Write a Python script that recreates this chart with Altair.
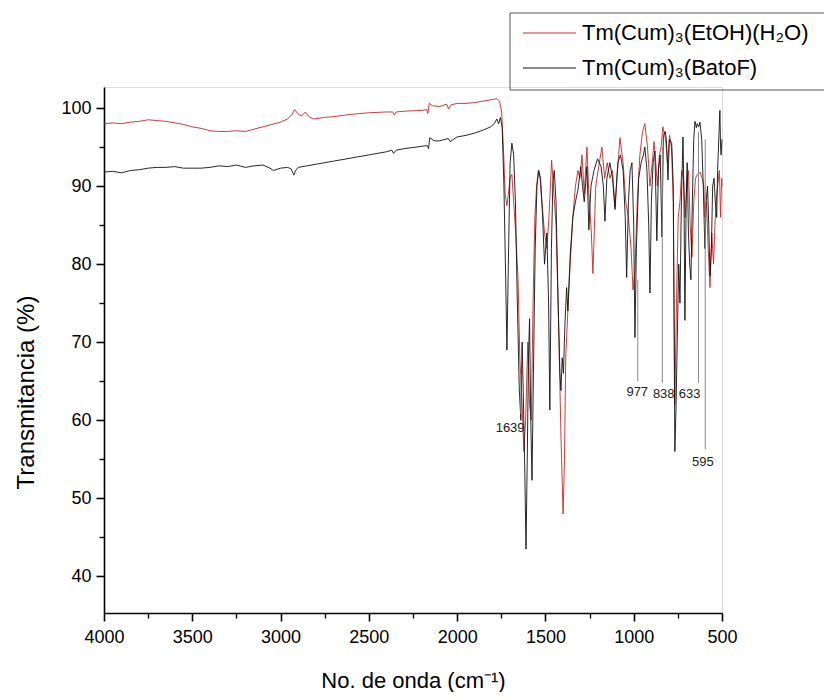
import altair as alt
import pandas as pd

FONT = "Liberation Sans"

# ---- data: (wavenumber cm-1, transmittance %) ----
red_points = [
    (4000, 98.0), (3950, 98.1), (3900, 98.0), (3850, 98.2), (3800, 98.3), (3750, 98.5),
    (3700, 98.4), (3650, 98.3), (3600, 98.1), (3550, 97.9), (3500, 97.6), (3450, 97.4),
    (3400, 97.1), (3350, 97.0), (3300, 97.0), (3250, 97.1), (3200, 97.0), (3150, 97.3),
    (3100, 97.6), (3050, 97.9), (3000, 98.2), (2960, 98.6), (2935, 99.2), (2920, 99.8),
    (2900, 99.2), (2880, 99.0), (2860, 99.5), (2840, 98.9), (2815, 98.6), (2750, 98.8),
    (2700, 98.9), (2600, 99.2), (2500, 99.4), (2400, 99.5), (2365, 99.5), (2355, 99.1),
    (2345, 99.5), (2300, 99.6), (2200, 99.7), (2172, 99.8), (2166, 99.3), (2158, 100.6),
    (2140, 100.3), (2100, 100.2), (2060, 100.5), (2048, 99.9), (2035, 100.4), (2000, 100.6),
    (1950, 100.6), (1900, 100.7), (1850, 100.9), (1800, 101.1), (1775, 101.2), (1760, 100.9),
    (1748, 99.5), (1738, 95), (1728, 89), (1718, 87.5), (1710, 89), (1700, 91),
    (1690, 91.5), (1680, 88), (1668, 84), (1655, 78), (1645, 68), (1632, 62),
    (1622, 56), (1612, 60), (1600, 70), (1590, 62), (1580, 60), (1570, 75),
    (1560, 86), (1550, 90), (1540, 92), (1530, 91), (1520, 88), (1505, 84),
    (1492, 82), (1480, 86), (1465, 93.3), (1452, 89), (1440, 85), (1425, 72),
    (1412, 58), (1400, 48), (1392, 55), (1385, 68), (1373, 74), (1360, 80),
    (1345, 86), (1330, 90), (1316, 92), (1305, 91), (1293, 94), (1280, 89),
    (1265, 95), (1254, 89), (1240, 84), (1231, 78.8), (1215, 90), (1195, 93),
    (1180, 95), (1165, 91), (1150, 93), (1135, 91), (1120, 92), (1106, 87.3),
    (1092, 92), (1078, 96.2), (1060, 93), (1045, 88), (1030, 86), (1015, 82),
    (1004, 76.7), (993, 79), (980, 88), (965, 94), (950, 97), (937, 98),
    (922, 95), (908, 90), (895, 93), (885, 95.7), (875, 93), (866, 90),
    (855, 94), (845, 95), (835, 97.6), (820, 96), (808, 93), (797, 96.5),
    (786, 95), (776, 88), (767, 62), (758, 75), (748, 86), (738, 88),
    (728, 92), (718, 91), (708, 86), (698, 91), (690, 92), (680, 85),
    (670, 80.9), (660, 88), (650, 91), (640, 91.5), (625, 91.8), (612, 91),
    (603, 90), (597, 86), (588, 88), (578, 82), (568, 77), (558, 84),
    (548, 80), (540, 85), (530, 89), (522, 90.5), (515, 92), (508, 86),
    (502, 91), (500, 90),
]

black_points = [
    (4000, 91.8), (3950, 91.9), (3900, 91.7), (3850, 92.0), (3800, 92.1), (3750, 92.3),
    (3700, 92.4), (3650, 92.4), (3600, 92.5), (3550, 92.3), (3500, 92.3), (3450, 92.3),
    (3400, 92.4), (3350, 92.6), (3300, 92.5), (3250, 92.7), (3200, 92.4), (3150, 92.6),
    (3100, 92.7), (3060, 92.3), (3040, 92.0), (3000, 92.3), (2960, 92.4), (2940, 92.2),
    (2925, 91.4), (2915, 92.0), (2900, 92.4), (2850, 92.6), (2800, 92.8), (2750, 93.0),
    (2700, 93.2), (2600, 93.6), (2500, 94.0), (2400, 94.4), (2370, 94.6), (2360, 94.2),
    (2345, 94.6), (2300, 94.8), (2200, 95.1), (2170, 95.2), (2162, 94.8), (2155, 96.2),
    (2130, 95.8), (2100, 95.8), (2050, 96.1), (2040, 95.7), (2000, 96.3), (1950, 96.5),
    (1900, 96.8), (1850, 97.2), (1810, 97.6), (1790, 98.0), (1775, 98.6), (1765, 98.0),
    (1755, 98.8), (1745, 97.5), (1735, 90), (1725, 78), (1718, 69), (1710, 80),
    (1700, 93), (1690, 95.5), (1680, 94), (1670, 88), (1660, 76), (1648, 64),
    (1639, 60), (1632, 70), (1625, 63), (1618, 55), (1610, 43.5), (1603, 55),
    (1596, 68), (1590, 73), (1583, 60), (1576, 52.3), (1568, 66), (1558, 82),
    (1548, 90), (1538, 92), (1528, 91), (1518, 87), (1505, 80), (1492, 84),
    (1482, 75), (1475, 61.3), (1466, 82), (1458, 90.4), (1450, 92), (1440, 88),
    (1428, 75), (1418, 66), (1412, 63.8), (1405, 68), (1398, 66), (1390, 72),
    (1380, 77), (1373, 74), (1360, 81), (1345, 86), (1330, 88), (1316, 89.5),
    (1300, 92.5), (1290, 90), (1280, 88), (1265, 92.5), (1254, 84.4), (1242, 90),
    (1225, 92), (1205, 93.5), (1185, 92.5), (1172, 90), (1163, 85.5), (1152, 91),
    (1135, 93), (1120, 91), (1106, 87), (1090, 93), (1075, 94), (1060, 92),
    (1048, 86), (1040, 78.3), (1030, 88), (1020, 92), (1010, 93), (1000, 85),
    (993, 70.6), (985, 82), (972, 91), (958, 93), (945, 94), (937, 95),
    (925, 92), (915, 85), (908, 76.3), (900, 88), (890, 93), (880, 94.5),
    (869, 83), (860, 92), (850, 94), (840, 83.5), (832, 96.5), (822, 97),
    (815, 96), (806, 90.8), (798, 96), (785, 95.5), (776, 90), (767, 56),
    (760, 62), (752, 72), (745, 80), (738, 75), (730, 88), (721, 96.3),
    (715, 88), (710, 72.8), (703, 88), (697, 93), (690, 84), (683, 80),
    (676, 78), (668, 88), (660, 96), (653, 98.3), (645, 97.5), (640, 98),
    (632, 97.6), (625, 98.2), (615, 96), (606, 90), (597, 82), (590, 88),
    (582, 90), (575, 85), (568, 78.5), (560, 82), (553, 90), (545, 91),
    (538, 88), (530, 86), (525, 92), (512, 99.7), (508, 95), (505, 94),
    (500, 96),
]

series_names = ["Tm(Cum)₃(EtOH)(H₂O)", "Tm(Cum)₃(BatoF)"]
series_colors = ["#c62828", "#111111"]

# peak annotations
ann_w = [1639, 977, 838, 633, 595]
ann_top = [66, 78, 95, 97, 96]
ann_bot = [60.8, 65.0, 64.8, 64.8, 56.3]
lab_x = [1700, 980, 830, 683, 608]
lab_y = [59.0, 63.6, 63.3, 63.3, 54.6]
lab_text = ["1639", "977", "838", "633", "595"]

x_major_ticks = [4000, 3500, 3000, 2500, 2000, 1500, 1000, 500]
x_minor_ticks = [3750, 3250, 2750, 2250, 1750, 1250, 750]
y_major_ticks = [40, 50, 60, 70, 80, 90, 100]
y_minor_ticks = [45, 55, 65, 75, 85, 95]

# ---- tables ----
df_red = pd.DataFrame(red_points, columns=["w", "t"])
df_black = pd.DataFrame(black_points, columns=["w", "t"])
df_ann = pd.DataFrame({"w": ann_w, "top": ann_top, "bot": ann_bot})
df_lab = pd.DataFrame({"x": lab_x, "y": lab_y, "label": lab_text})
one = pd.DataFrame({"a": [0]})

xs = alt.Scale(domain=[500, 4000], reverse=True, nice=False, zero=False)
ys = alt.Scale(domain=[35.3, 102.7], nice=False, zero=False)

common_axis = dict(grid=False, domainColor="black", tickColor="black", labelColor="black",
                   labelFont=FONT, titleFont=FONT, titleColor="black", titleFontWeight="normal",
                   domainWidth=1.6, tickWidth=1.6)

x_major = alt.Axis(values=x_major_ticks, format="d", tickSize=8, labelFontSize=18, labelPadding=7,
                   title="No. de onda (cm⁻¹)", titleFontSize=22, titleBaseline="middle", titleY=67,
                   orient="bottom", labelFlush=False, labelOverlap=False, **common_axis)
y_major = alt.Axis(values=y_major_ticks, format="d", tickSize=8, labelFontSize=18, labelPadding=5,
                   title="Transmitancia (%)", titleFontSize=24, titleAlign="center",
                   titleBaseline="middle", titleX=-78, titleY=305,
                   orient="left", labelOverlap=False, **common_axis)
x_minor = alt.Axis(values=x_minor_ticks, labels=False, domain=False, tickSize=5, tickWidth=1.4,
                   tickColor="black", grid=False, orient="bottom", title=None)
y_minor = alt.Axis(values=y_minor_ticks, labels=False, domain=False, tickSize=5, tickWidth=1.4,
                   tickColor="black", grid=False, orient="left", title=None)

red_line = alt.Chart(df_red).mark_line(color=series_colors[0], strokeWidth=0.9).encode(
    x=alt.X("w:Q", scale=xs, axis=x_major),
    y=alt.Y("t:Q", scale=ys, axis=y_major),
)
black_line = alt.Chart(df_black).mark_line(color=series_colors[1], strokeWidth=0.9).encode(
    x=alt.X("w:Q", scale=xs, axis=None),
    y=alt.Y("t:Q", scale=ys, axis=None),
)
ann_rules = alt.Chart(df_ann).mark_rule(color="#8a8a8a", strokeWidth=1).encode(
    x=alt.X("w:Q", scale=xs, axis=x_minor),
    y=alt.Y("top:Q", scale=ys, axis=y_minor),
    y2="bot:Q",
)
ann_text = alt.Chart(df_lab).mark_text(font=FONT, fontSize=13, color="#222222", baseline="middle").encode(
    x=alt.X("x:Q", scale=xs, axis=None),
    y=alt.Y("y:Q", scale=ys, axis=None),
    text="label:N",
)

# custom legend (box + two entries) above the top-right of the plot
leg_box = alt.Chart(one).mark_rect(filled=False, stroke="#555555", strokeWidth=1).encode(
    x=alt.value(406), x2=alt.value(760), y=alt.value(-74), y2=alt.value(3)
)
leg_layers = [leg_box]
for i, (name, col) in enumerate(zip(series_names, series_colors)):
    yy = -54 + 35 * i
    leg_layers.append(
        alt.Chart(one).mark_rule(color=col, strokeWidth=1).encode(
            x=alt.value(419), x2=alt.value(472), y=alt.value(yy))
    )
    leg_layers.append(
        alt.Chart(one).mark_text(align="left", baseline="middle", font=FONT, fontSize=22, color="black").encode(
            x=alt.value(478), y=alt.value(yy), text=alt.value(name))
    )

chart = alt.layer(red_line, black_line, ann_rules, ann_text, *leg_layers).resolve_axis(
    x="independent", y="independent"
).properties(
    width=618, height=526,
    padding={"left": 96, "top": 79, "right": 102, "bottom": 79},
    autosize=alt.AutoSizeParams(type="none"),
).configure_view(strokeWidth=0).configure(background="white")

chart.save("out.html", embed_options={"renderer": "svg", "actions": False})
